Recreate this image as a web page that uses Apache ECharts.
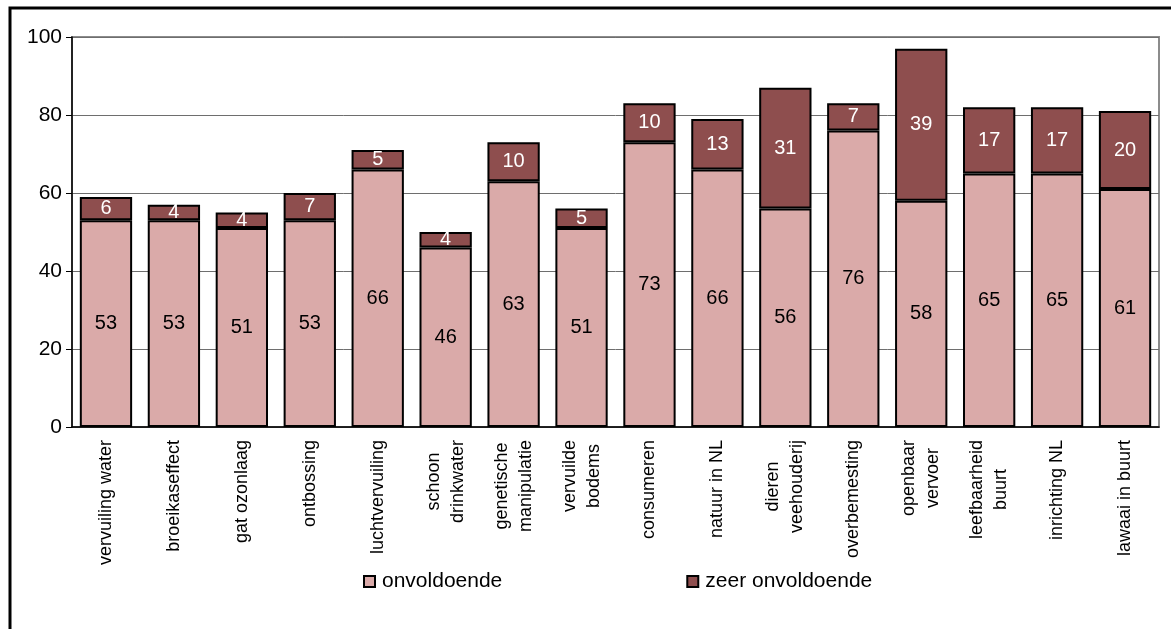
<!DOCTYPE html>
<html>
<head>
<meta charset="utf-8">
<script src="https://cdn.jsdelivr.net/npm/echarts@6/dist/echarts.min.js"></script>
<style>
  html, body { margin: 0; padding: 0; background: #fff; }
  #chart { width: 1171px; height: 629px; }
</style>
</head>
<body>
<div id="chart"></div>
<script>
const categories = [
    "vervuiling water", "broeikaseffect", "gat ozonlaag", "ontbossing",
    "luchtvervuiling", "schoon\ndrinkwater", "genetische\nmanipulatie", "vervuilde\nbodems",
    "consumeren", "natuur in NL", "dieren\nveehouderij", "overbemesting",
    "openbaar\nvervoer", "leefbaarheid\nbuurt", "inrichting NL", "lawaai in buurt"
];
const onvoldoende = [53, 53, 51, 53, 66, 46, 63, 51, 73, 66, 56, 76, 58, 65, 65, 61];
const zeerOnvoldoende = [6, 4, 4, 7, 5, 4, 10, 5, 10, 13, 31, 7, 39, 17, 17, 20];
const yTicks = [0, 20, 40, 60, 80, 100];

const FONT = "Liberation Sans, Arial, sans-serif";

let myChart = echarts.init(document.querySelector("#chart"));
option = {
    animation: false,
    textStyle: { fontFamily: FONT },
    graphic: [
        {
            type: "rect",
            shape: { x: 10, y: 8, width: 1200, height: 700 },
            style: { fill: "none", stroke: "#000", lineWidth: 3 },
            z: 100,
        },
    ],
    grid: {
        left: 72,
        right: 12,
        top: 37,
        bottom: 202,
        show: true,
        borderColor: "#8c8c8c",
        borderWidth: 2,
    },
    legend: {
        bottom: 32,
        left: 358,
        icon: "rect",
        itemWidth: 11,
        itemHeight: 11,
        itemGap: 184,
        itemStyle: { borderColor: "#000", borderWidth: 2 },
        textStyle: { fontSize: 21, color: "#000", fontFamily: FONT, padding: [0, 0, 0, 2] },
        data: ["onvoldoende", "zeer onvoldoende"],
    },
    xAxis: {
        type: "category",
        data: categories,
        axisLine: { lineStyle: { color: "#000", width: 1.5 } },
        axisTick: { length: 8, lineStyle: { color: "#000" } },
        axisLabel: {
            rotate: 90,
            margin: 13,
            interval: 0,
            color: "#000",
            fontSize: 18,
            fontFamily: FONT,
            formatter: function (v) {
                return v.split("\n").map(function (s) { return "{a|" + s + "}"; }).join("\n");
            },
            rich: {
                a: { fontSize: 18, fontFamily: FONT, color: "#000", align: "center", lineHeight: 24 },
            },
        },
    },
    yAxis: {
        type: "value",
        min: yTicks[0],
        max: yTicks[yTicks.length - 1],
        interval: 20,
        axisLine: { show: true, lineStyle: { color: "#000", width: 1.5 } },
        axisTick: { show: true, length: 6, inside: false, lineStyle: { color: "#000" } },
        axisLabel: { color: "#000", fontSize: 21, margin: 10, fontFamily: FONT },
        splitLine: { lineStyle: { color: "#6e6e6e", width: 1 } },
    },
    series: [
        {
            name: "onvoldoende",
            type: "bar",
            stack: "total",
            barCategoryGap: "23%",
            data: onvoldoende,
            itemStyle: { color: "#DAAAA9", borderColor: "#000", borderWidth: 2 },
            label: {
                show: true,
                position: "inside",
                color: "#000",
                fontSize: 20,
                fontFamily: FONT,
            },
        },
        {
            name: "zeer onvoldoende",
            type: "bar",
            stack: "total",
            data: zeerOnvoldoende,
            itemStyle: { color: "#8E4E4E", borderColor: "#000", borderWidth: 2 },
            label: {
                show: true,
                position: "inside",
                color: "#fff",
                fontSize: 20,
                fontFamily: FONT,
            },
        },
    ],
};
myChart.setOption(option);
window.addEventListener("resize", function () {
    myChart.resize();
});
</script>
</body>
</html>
